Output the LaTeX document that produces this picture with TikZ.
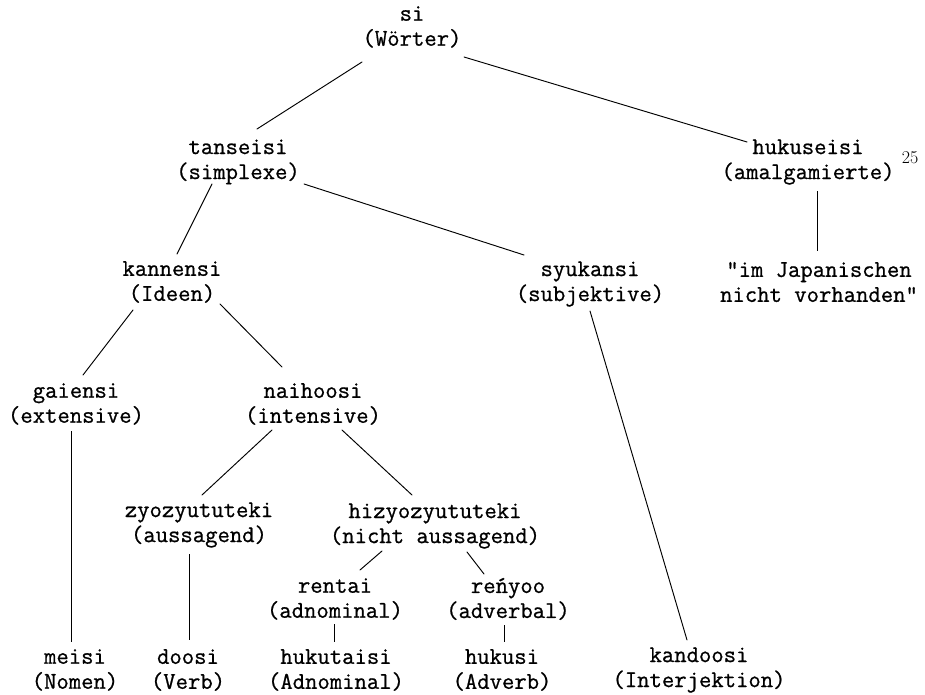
\documentclass[tikz,border=0pt]{standalone}
\usepackage{fontspec}
\setmonofont[FakeBold=0.8]{Latin Modern Mono}
\begin{document}
\begin{tikzpicture}[x=1pt,y=-1pt,
  term/.style={align=center,inner sep=0pt,font=\fontsize{24}{25}\selectfont\ttfamily},
  branch/.style={line width=0.95pt,line cap=round},
  stem/.style={line width=0.75pt},
  note/.style={inner sep=0pt,font=\fontsize{18}{18}\selectfont}]
\useasboundingbox (0,0) rectangle (925,695);

% terms of the classification
\node[term] (si)   at (412,27)  {si\\(Wörter)};
\node[term] (tan)  at (238,162) {tanseisi\\(simplexe)};
\node[term] (huk)  at (808,162) {hukuseisi\\(amalgamierte)};
\node[note] (fn)   at (910,158) {25};
\node[term] (kan)  at (172,282) {kannensi\\(Ideen)};
\node[term] (syu)  at (590,284) {syukansi\\(subjektive)};
\node[term] (im)   at (819,282) {"im Japanischen\\nicht vorhanden"};
\node[term] (gai)  at (76,404)  {gaiensi\\(extensive)};
\node[term] (nai)  at (313,404) {naihoosi\\(intensive)};
\node[term] (zyo)  at (199,525) {zyozyututeki\\(aussagend)};
\node[term] (hiz)  at (435,526) {hizyozyututeki\\(nicht aussagend)};
\node[term] (ren)  at (335,599) {rentai\\(adnominal)};
\node[term] (rey)  at (508,599) {reńyoo\\(adverbal)};
\node[term] (mei)  at (75,670)  {meisi\\(Nomen)};
\node[term] (doo)  at (188,670) {doosi\\(Verb)};
\node[term] (hkt)  at (336,670) {hukutaisi\\(Adnominal)};
\node[term] (hks)  at (502,670) {hukusi\\(Adverb)};
\node[term] (kand) at (699,670) {kandoosi\\(Interjektion)};

% diagonal branches
\draw[branch] ([shift={(-50,35)}]si.center)  -- ([shift={(19,-33)}]tan.center);
\draw[branch] ([shift={(52,30)}]si.center)   -- ([shift={(-61,-20)}]huk.center);
\draw[branch] ([shift={(-26,22)}]tan.center) -- ([shift={(5,-28)}]kan.center);
\draw[branch] ([shift={(66,22)}]tan.center)  -- ([shift={(-66,-29)}]syu.center);
\draw[branch] ([shift={(-39,28)}]kan.center) -- ([shift={(7,-29)}]gai.center);
\draw[branch] ([shift={(48,22)}]kan.center)  -- ([shift={(-31,-37)}]nai.center);
\draw[branch] ([shift={(0,27)}]syu.center)   -- ([shift={(-12,-30)}]kand.center);
\draw[branch] ([shift={(-41,26)}]nai.center) -- ([shift={(3,-30)}]zyo.center);
\draw[branch] ([shift={(29,26)}]nai.center)  -- ([shift={(-23,-31)}]hiz.center);
\draw[branch] ([shift={(-53,25)}]hiz.center) -- ([shift={(25,-29)}]ren.center);
\draw[branch] ([shift={(32,26)}]hiz.center)  -- ([shift={(-24,-25)}]rey.center);

% vertical stems
\draw[stem] ([shift={(9,29)}]huk.center)    -- ([shift={(-2,-31)}]im.center);
\draw[stem] ([shift={(-5,27)}]gai.center)   -- ([shift={(-4,-28)}]mei.center);
\draw[stem] ([shift={(-10,29)}]zyo.center)  -- ([shift={(1,-30)}]doo.center);
\draw[stem] ([shift={(-1,25)}]ren.center)   -- ([shift={(-2,-28)}]hkt.center);
\draw[stem] ([shift={(-4,26)}]rey.center)   -- ([shift={(2,-28)}]hks.center);
\end{tikzpicture}
\end{document}
